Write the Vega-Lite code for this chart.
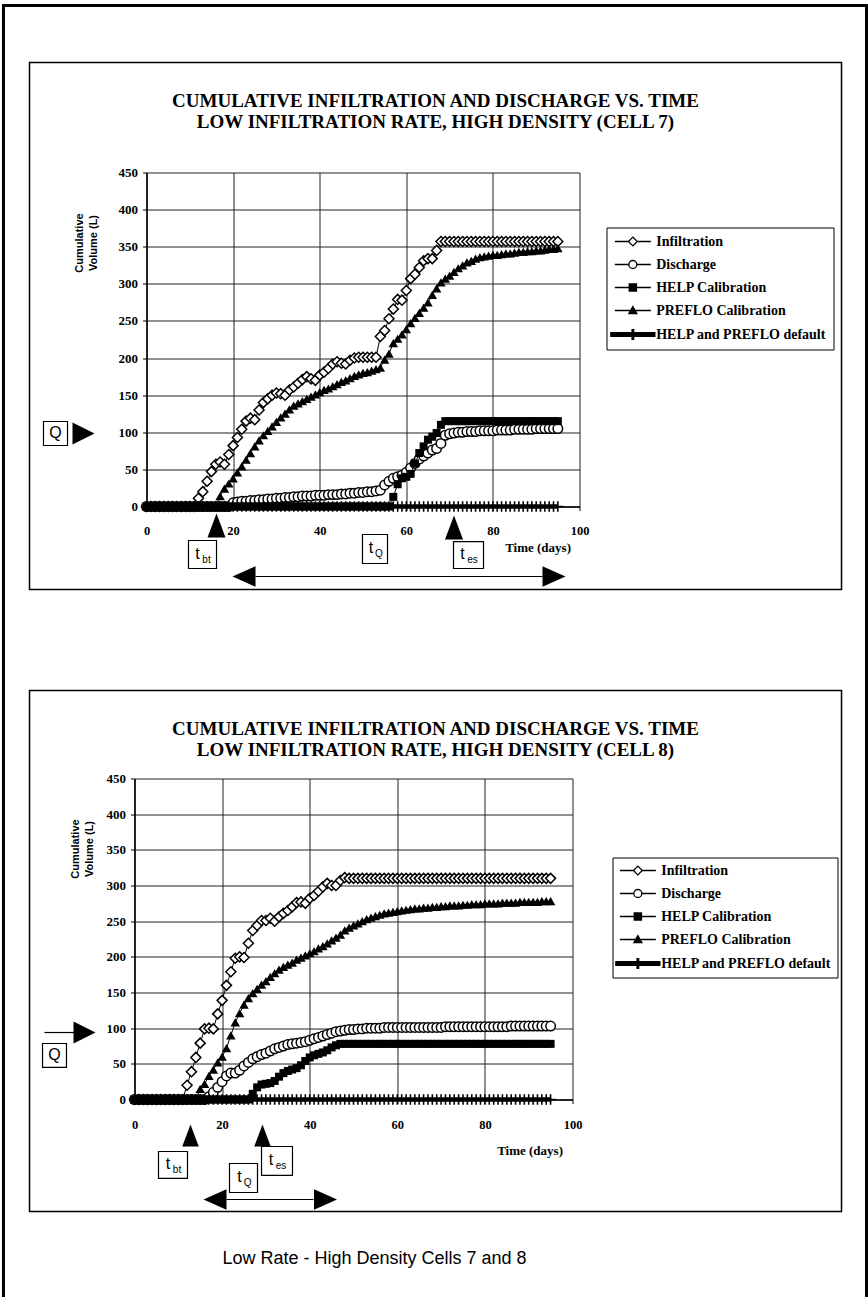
{
"$schema":"https://vega.github.io/schema/vega-lite/v6.json",
"padding":{"left":1.5,"top":3.5,"right":0,"bottom":0},
"background":"white",
"config":{"view":{"stroke":null},"font":"Liberation Serif"},
"datasets":{
"c7":[
{"t":0,"i":0,"c":0,"h":0,"p":0,"d":0},{"t":1,"i":0,"c":0,"h":0,"p":0,"d":0},{"t":2,"i":0,"c":0,"h":0,"p":0,"d":0},{"t":3,"i":0,"c":0,"h":0,"p":0,"d":0},{"t":4,"i":0,"c":0,"h":0,"p":0,"d":0},{"t":5,"i":0,"c":0,"h":0,"p":0,"d":0},{"t":6,"i":0,"c":0,"h":0,"p":0,"d":0},{"t":7,"i":0,"c":0,"h":0,"p":0,"d":0},{"t":8,"i":0,"c":0,"h":0,"p":0,"d":0},{"t":9,"i":0,"c":0,"h":0,"p":0,"d":0},{"t":10,"i":0,"c":0,"h":0,"p":0,"d":0},{"t":11,"i":0,"c":0,"h":0,"p":0,"d":0},
{"t":12,"i":11,"c":0,"h":0,"p":0,"d":0},{"t":13,"i":20,"c":0,"h":0,"p":0,"d":0},{"t":14,"i":34,"c":0,"h":0,"p":0,"d":0},{"t":15,"i":47,"c":0,"h":0,"p":0,"d":0},{"t":16,"i":57,"c":0,"h":0,"p":0,"d":0},{"t":17,"i":60,"c":0,"h":0,"p":14,"d":0},{"t":18,"i":57,"c":0,"h":0,"p":24,"d":0},{"t":19,"i":70,"c":0,"h":0,"p":31,"d":0},
{"t":20,"i":82,"c":5,"h":0,"p":38,"d":0},{"t":21,"i":93,"c":6,"h":0,"p":46,"d":0},{"t":22,"i":104,"c":7,"h":0,"p":54,"d":0},{"t":23,"i":115,"c":7,"h":0,"p":63,"d":0},{"t":24,"i":119,"c":8,"h":0,"p":72,"d":0},{"t":25,"i":117,"c":8,"h":0,"p":81,"d":0},{"t":26,"i":130,"c":9,"h":0,"p":89,"d":0},{"t":27,"i":140,"c":9,"h":0,"p":96,"d":0},{"t":28,"i":145,"c":10,"h":0,"p":102,"d":0},{"t":29,"i":150,"c":10,"h":0,"p":108,"d":0},
{"t":30,"i":153,"c":11,"h":0,"p":114,"d":0},{"t":31,"i":152,"c":11,"h":0,"p":120,"d":0},{"t":32,"i":150,"c":12,"h":0,"p":125,"d":0},{"t":33,"i":157,"c":12,"h":0,"p":131,"d":0},{"t":34,"i":161,"c":13,"h":0,"p":136,"d":0},{"t":35,"i":166,"c":13,"h":0,"p":139,"d":0},{"t":36,"i":171,"c":14,"h":0,"p":142,"d":0},{"t":37,"i":175,"c":14,"h":0,"p":145,"d":0},{"t":38,"i":172,"c":14,"h":0,"p":148,"d":0},{"t":39,"i":170,"c":15,"h":0,"p":151,"d":0},
{"t":40,"i":177,"c":15,"h":0,"p":154,"d":0},{"t":41,"i":181,"c":15,"h":0,"p":157,"d":0},{"t":42,"i":186,"c":16,"h":0,"p":159,"d":0},{"t":43,"i":192,"c":16,"h":0,"p":162,"d":0},{"t":44,"i":195,"c":16,"h":0,"p":165,"d":0},{"t":45,"i":193,"c":17,"h":0,"p":168,"d":0},{"t":46,"i":192,"c":17,"h":0,"p":170,"d":0},{"t":47,"i":197,"c":18,"h":0,"p":173,"d":0},{"t":48,"i":200,"c":18,"h":0,"p":176,"d":0},{"t":49,"i":201,"c":19,"h":0,"p":178,"d":0},
{"t":50,"i":201,"c":19,"h":0,"p":180,"d":0},{"t":51,"i":201,"c":20,"h":0,"p":181,"d":0},{"t":52,"i":201,"c":20,"h":0,"p":183,"d":0},{"t":53,"i":201,"c":21,"h":0,"p":185,"d":0},{"t":54,"i":229,"c":22,"h":0,"p":187,"d":0},{"t":55,"i":237,"c":29,"h":0,"p":198,"d":0},{"t":56,"i":253,"c":34,"h":0,"p":206,"d":0},{"t":57,"i":266,"c":38,"h":13,"p":220,"d":0},{"t":58,"i":279,"c":40,"h":30,"p":226,"d":0},{"t":59,"i":278,"c":42,"h":38,"p":232,"d":0},
{"t":60,"i":291,"c":46,"h":40,"p":239,"d":0},{"t":61,"i":307,"c":52,"h":44,"p":247,"d":0},{"t":62,"i":313,"c":58,"h":58,"p":254,"d":0},{"t":63,"i":322,"c":64,"h":72,"p":261,"d":0},{"t":64,"i":331,"c":68,"h":81,"p":268,"d":0},{"t":65,"i":334,"c":72,"h":90,"p":275,"d":0},{"t":66,"i":334,"c":76,"h":94,"p":285,"d":0},{"t":67,"i":345,"c":78,"h":99,"p":294,"d":0},{"t":68,"i":357,"c":85,"h":110,"p":302,"d":0},{"t":69,"i":357,"c":96,"h":115,"p":307,"d":0},
{"t":70,"i":357,"c":98,"h":115,"p":311,"d":0},{"t":71,"i":357,"c":99,"h":115,"p":316,"d":0},{"t":72,"i":357,"c":100,"h":115,"p":321,"d":0},{"t":73,"i":357,"c":100,"h":115,"p":325,"d":0},{"t":74,"i":357,"c":101,"h":115,"p":329,"d":0},{"t":75,"i":357,"c":101,"h":115,"p":331,"d":0},{"t":76,"i":357,"c":101,"h":115,"p":334,"d":0},{"t":77,"i":357,"c":102,"h":115,"p":336,"d":0},{"t":78,"i":357,"c":102,"h":115,"p":337,"d":0},{"t":79,"i":357,"c":102,"h":115,"p":338,"d":0},
{"t":80,"i":357,"c":102,"h":115,"p":339,"d":0},{"t":81,"i":357,"c":103,"h":115,"p":339,"d":0},{"t":82,"i":357,"c":103,"h":115,"p":340,"d":0},{"t":83,"i":357,"c":103,"h":115,"p":341,"d":0},{"t":84,"i":357,"c":103,"h":115,"p":341,"d":0},{"t":85,"i":357,"c":104,"h":115,"p":342,"d":0},{"t":86,"i":357,"c":104,"h":115,"p":343,"d":0},{"t":87,"i":357,"c":104,"h":115,"p":343,"d":0},{"t":88,"i":357,"c":104,"h":115,"p":344,"d":0},{"t":89,"i":357,"c":104,"h":115,"p":344,"d":0},
{"t":90,"i":357,"c":105,"h":115,"p":345,"d":0},{"t":91,"i":357,"c":105,"h":115,"p":345,"d":0},{"t":92,"i":357,"c":105,"h":115,"p":346,"d":0},{"t":93,"i":357,"c":105,"h":115,"p":347,"d":0},{"t":94,"i":357,"c":105,"h":115,"p":347,"d":0},{"t":95,"i":357,"c":105,"h":115,"p":348,"d":0}
],
"c8":[
{"t":0,"i":0,"c":0,"h":0,"p":0,"d":0},{"t":1,"i":0,"c":0,"h":0,"p":0,"d":0},{"t":2,"i":0,"c":0,"h":0,"p":0,"d":0},{"t":3,"i":0,"c":0,"h":0,"p":0,"d":0},{"t":4,"i":0,"c":0,"h":0,"p":0,"d":0},{"t":5,"i":0,"c":0,"h":0,"p":0,"d":0},{"t":6,"i":0,"c":0,"h":0,"p":0,"d":0},{"t":7,"i":0,"c":0,"h":0,"p":0,"d":0},{"t":8,"i":0,"c":0,"h":0,"p":0,"d":0},{"t":9,"i":0,"c":0,"h":0,"p":0,"d":0},{"t":10,"i":0,"c":0,"h":0,"p":0,"d":0},{"t":11,"i":0,"c":0,"h":0,"p":0,"d":0},
{"t":12,"i":20,"c":0,"h":0,"p":0,"d":0},{"t":13,"i":39,"c":0,"h":0,"p":0,"d":0},{"t":14,"i":59,"c":0,"h":0,"p":0,"d":0},{"t":15,"i":79,"c":0,"h":0,"p":15,"d":0},{"t":16,"i":99,"c":0,"h":0,"p":22,"d":0},{"t":17,"i":100,"c":4,"h":0,"p":33,"d":0},{"t":18,"i":99,"c":10,"h":0,"p":42,"d":0},{"t":19,"i":120,"c":17,"h":0,"p":52,"d":0},
{"t":20,"i":139,"c":25,"h":0,"p":60,"d":0},{"t":21,"i":160,"c":33,"h":0,"p":72,"d":0},{"t":22,"i":179,"c":37,"h":0,"p":90,"d":0},{"t":23,"i":198,"c":37,"h":0,"p":108,"d":0},{"t":24,"i":200,"c":41,"h":0,"p":121,"d":0},{"t":25,"i":199,"c":47,"h":0,"p":133,"d":0},{"t":26,"i":219,"c":52,"h":0,"p":142,"d":0},{"t":27,"i":237,"c":57,"h":8,"p":149,"d":0},{"t":28,"i":244,"c":60,"h":17,"p":155,"d":0},{"t":29,"i":251,"c":63,"h":21,"p":161,"d":0},
{"t":30,"i":251,"c":65,"h":22,"p":166,"d":0},{"t":31,"i":254,"c":68,"h":23,"p":172,"d":0},{"t":32,"i":250,"c":71,"h":26,"p":177,"d":0},{"t":33,"i":256,"c":73,"h":32,"p":182,"d":0},{"t":34,"i":261,"c":75,"h":37,"p":186,"d":0},{"t":35,"i":265,"c":77,"h":40,"p":189,"d":0},{"t":36,"i":270,"c":78,"h":42,"p":192,"d":0},{"t":37,"i":276,"c":79,"h":44,"p":196,"d":0},{"t":38,"i":277,"c":80,"h":48,"p":199,"d":0},{"t":39,"i":275,"c":81,"h":54,"p":202,"d":0},
{"t":40,"i":282,"c":83,"h":59,"p":205,"d":0},{"t":41,"i":286,"c":85,"h":62,"p":208,"d":0},{"t":42,"i":292,"c":87,"h":64,"p":212,"d":0},{"t":43,"i":298,"c":89,"h":66,"p":215,"d":0},{"t":44,"i":303,"c":91,"h":69,"p":219,"d":0},{"t":45,"i":300,"c":93,"h":73,"p":223,"d":0},{"t":46,"i":300,"c":95,"h":76,"p":227,"d":0},{"t":47,"i":307,"c":96,"h":78,"p":231,"d":0},{"t":48,"i":311,"c":97,"h":78,"p":237,"d":0},{"t":49,"i":310,"c":98,"h":78,"p":241,"d":0},
{"t":50,"i":310,"c":98,"h":78,"p":244,"d":0},{"t":51,"i":310,"c":99,"h":78,"p":247,"d":0},{"t":52,"i":310,"c":99,"h":78,"p":250,"d":0},{"t":53,"i":310,"c":100,"h":78,"p":253,"d":0},{"t":54,"i":310,"c":100,"h":78,"p":255,"d":0},{"t":55,"i":310,"c":100,"h":78,"p":257,"d":0},{"t":56,"i":310,"c":100,"h":78,"p":259,"d":0},{"t":57,"i":310,"c":101,"h":78,"p":261,"d":0},{"t":58,"i":310,"c":101,"h":78,"p":262,"d":0},{"t":59,"i":310,"c":101,"h":78,"p":263,"d":0},
{"t":60,"i":310,"c":101,"h":78,"p":264,"d":0},{"t":61,"i":310,"c":101,"h":78,"p":265,"d":0},{"t":62,"i":310,"c":101,"h":78,"p":266,"d":0},{"t":63,"i":310,"c":101,"h":78,"p":267,"d":0},{"t":64,"i":310,"c":101,"h":78,"p":268,"d":0},{"t":65,"i":310,"c":101,"h":78,"p":268,"d":0},{"t":66,"i":310,"c":101,"h":78,"p":269,"d":0},{"t":67,"i":310,"c":101,"h":78,"p":269,"d":0},{"t":68,"i":310,"c":101,"h":78,"p":270,"d":0},{"t":69,"i":310,"c":101,"h":78,"p":270,"d":0},
{"t":70,"i":310,"c":101,"h":78,"p":271,"d":0},{"t":71,"i":310,"c":102,"h":78,"p":271,"d":0},{"t":72,"i":310,"c":102,"h":78,"p":272,"d":0},{"t":73,"i":310,"c":102,"h":78,"p":272,"d":0},{"t":74,"i":310,"c":102,"h":78,"p":272,"d":0},{"t":75,"i":310,"c":102,"h":78,"p":273,"d":0},{"t":76,"i":310,"c":102,"h":78,"p":273,"d":0},{"t":77,"i":310,"c":102,"h":78,"p":274,"d":0},{"t":78,"i":310,"c":102,"h":78,"p":274,"d":0},{"t":79,"i":310,"c":102,"h":78,"p":274,"d":0},
{"t":80,"i":310,"c":102,"h":78,"p":275,"d":0},{"t":81,"i":310,"c":102,"h":78,"p":275,"d":0},{"t":82,"i":310,"c":102,"h":78,"p":275,"d":0},{"t":83,"i":310,"c":102,"h":78,"p":275,"d":0},{"t":84,"i":310,"c":102,"h":78,"p":276,"d":0},{"t":85,"i":310,"c":102,"h":78,"p":276,"d":0},{"t":86,"i":310,"c":103,"h":78,"p":276,"d":0},{"t":87,"i":310,"c":103,"h":78,"p":276,"d":0},{"t":88,"i":310,"c":103,"h":78,"p":277,"d":0},{"t":89,"i":310,"c":103,"h":78,"p":277,"d":0},
{"t":90,"i":310,"c":103,"h":78,"p":277,"d":0},{"t":91,"i":310,"c":103,"h":78,"p":277,"d":0},{"t":92,"i":310,"c":103,"h":78,"p":277,"d":0},{"t":93,"i":310,"c":103,"h":78,"p":278,"d":0},{"t":94,"i":310,"c":103,"h":78,"p":278,"d":0},{"t":95,"i":310,"c":103,"h":78,"p":278,"d":0}
],
"names":[{"s":"Infiltration"},{"s":"Discharge"},{"s":"HELP Calibration"},{"s":"PREFLO Calibration"},{"s":"HELP and PREFLO default"}]
},
"spacing":272,
"bounds":"flush",
"resolve":{"scale":{"x":"independent","y":"independent","shape":"independent","fill":"independent","stroke":"independent"},"legend":{"shape":"independent","fill":"independent","stroke":"independent"}},
"vconcat":[
{
"width":445,"height":334,
"layer":[
{"data":{"values":[{}]},"mark":{"type":"rect","fill":"white","fillOpacity":0,"stroke":"black","strokeWidth":3},
 "encoding":{"x":{"datum":-33.03},"x2":{"datum":166.28},"y":{"datum":675},"y2":{"datum":-1069.8}}},
{"data":{"values":[{}]},"mark":{"type":"rect","fill":"white","fillOpacity":0,"stroke":"black","strokeWidth":1.5},
 "encoding":{"x":{"datum":-27.02},"x2":{"datum":160.51},"y":{"datum":598.2},"y2":{"datum":-111.8}}},
{"data":{"name":"c7"},"mark":{"type":"line","color":"black","strokeWidth":1,"point":{"shape":"diamond","filled":true,"fill":"white","stroke":"black","strokeWidth":1.5,"size":100}},
 "encoding":{
  "x":{"field":"t","type":"quantitative","scale":{"domain":[0,100],"range":[12,445],"nice":false,"zero":false},
   "axis":{"values":[0,20,40,60,80,100],"tickCount":20,"grid":true,"gridColor":"#222","gridWidth":1,"domainColor":"black","domainWidth":1.5,"tickColor":"black","tickSize":4,"labelFont":"Liberation Serif","labelFontWeight":"bold","labelFontSize":12.5,"labelColor":"black","labelPadding":14,"labelFlush":false,"labelOverlap":false,"title":"Time (days)","titleFont":"Liberation Serif","titleFontWeight":"bold","titleFontSize":13,"titleColor":"black","titleAlign":"right","titleBaseline":"middle","titleX":436,"titleY":41}},
  "y":{"field":"i","type":"quantitative","scale":{"domain":[0,450],"nice":false,"zero":false},
   "axis":{"values":[0,50,100,150,200,250,300,350,400,450],"tickCount":20,"offset":-12,"grid":true,"gridColor":"#222","gridWidth":1,"domainColor":"black","domainWidth":1.5,"tickColor":"black","tickSize":4,"labelFont":"Liberation Serif","labelFontWeight":"bold","labelFontSize":13,"labelColor":"black","labelPadding":5,"labelOverlap":false,"labelFlush":false,"title":["Cumulative","Volume (L)"],"titleFont":"Liberation Sans","titleFontWeight":"bold","titleFontSize":11,"titleColor":"black","titleAngle":-90,"titleAlign":"center","titleBaseline":"middle","titleLineHeight":14,"titleX":-67,"titleY":70}}}},
{"data":{"name":"c7"},"mark":{"type":"line","color":"black","strokeWidth":1,"point":{"shape":"circle","filled":true,"fill":"white","stroke":"black","strokeWidth":1.5,"size":90}},
 "encoding":{"x":{"field":"t","type":"quantitative"},"y":{"field":"c","type":"quantitative"}}},
{"data":{"name":"c7"},"mark":{"type":"line","color":"black","strokeWidth":1,"point":{"shape":"square","filled":true,"fill":"black","size":64}},
 "encoding":{"x":{"field":"t","type":"quantitative"},"y":{"field":"h","type":"quantitative"}}},
{"data":{"name":"c7"},"mark":{"type":"line","color":"black","strokeWidth":1,"point":{"shape":"triangle-up","filled":true,"fill":"black","size":90}},
 "encoding":{"x":{"field":"t","type":"quantitative"},"y":{"field":"p","type":"quantitative"}}},
{"data":{"name":"c7"},"mark":{"type":"line","color":"black","strokeWidth":4.5,"point":{"shape":"M-1,-0.15H1V0.15H-1ZM-0.15,-1H0.15V1H-0.15Z","filled":true,"fill":"black","size":110}},
 "encoding":{"x":{"field":"t","type":"quantitative"},"y":{"field":"d","type":"quantitative"}}},
{"data":{"values":[{}]},"mark":{"type":"rect","fill":"white","stroke":"black","strokeWidth":1.2},
 "encoding":{"x":{"datum":-23.79},"x2":{"datum":-18.24},"y":{"datum":114.5},"y2":{"datum":82.2}}},
{"data":{"values":[{}]},"mark":{"type":"text","font":"Liberation Sans","fontSize":16,"color":"black","baseline":"middle"},
 "encoding":{"x":{"datum":-21.02},"y":{"datum":98.4},"text":{"value":"Q"}}},
{"data":{"values":[{}]},"mark":{"type":"point","shape":"M1,0L-1,-1L-1,1Z","filled":true,"color":"black","opacity":1,"size":484},
 "encoding":{"x":{"datum":-14.55},"y":{"datum":98.4}}},
{"data":{"values":[{}]},"mark":{"type":"point","shape":"M0,-1L0.75,1L-0.75,1Z","filled":true,"color":"black","opacity":1,"size":576},
 "encoding":{"x":{"datum":16.17},"y":{"datum":-25.6}}},
{"data":{"values":[{}]},"mark":{"type":"point","shape":"M0,-1L0.75,1L-0.75,1Z","filled":true,"color":"black","opacity":1,"size":576},
 "encoding":{"x":{"datum":71.02},"y":{"datum":-28.3}}},
{"data":{"values":[{}]},"mark":{"type":"rect","fill":"white","stroke":"black","strokeWidth":1.2},
 "encoding":{"x":{"datum":9.70},"x2":{"datum":16.17},"y":{"datum":-45.8},"y2":{"datum":-83.5}}},
{"data":{"values":[{}]},"mark":{"type":"rect","fill":"white","stroke":"black","strokeWidth":1.2},
 "encoding":{"x":{"datum":49.88},"x2":{"datum":55.66},"y":{"datum":-37.7},"y2":{"datum":-76.8}}},
{"data":{"values":[{}]},"mark":{"type":"rect","fill":"white","stroke":"black","strokeWidth":1.2},
 "encoding":{"x":{"datum":70.90},"x2":{"datum":77.83},"y":{"datum":-47.2},"y2":{"datum":-83.5}}},
{"data":{"values":[{}]},"mark":{"type":"text","font":"Liberation Sans","fontSize":16,"color":"black","baseline":"middle","dx":-5,"dy":-1},
 "encoding":{"x":{"datum":12.93},"y":{"datum":-64.7},"text":{"value":"t"}}},
{"data":{"values":[{}]},"mark":{"type":"text","font":"Liberation Sans","fontSize":10,"color":"black","baseline":"middle","dx":4,"dy":5},
 "encoding":{"x":{"datum":12.93},"y":{"datum":-64.7},"text":{"value":"bt"}}},
{"data":{"values":[{}]},"mark":{"type":"text","font":"Liberation Sans","fontSize":16,"color":"black","baseline":"middle","dx":-4,"dy":-1},
 "encoding":{"x":{"datum":52.77},"y":{"datum":-57.2},"text":{"value":"t"}}},
{"data":{"values":[{}]},"mark":{"type":"text","font":"Liberation Sans","fontSize":10,"color":"black","baseline":"middle","dx":4,"dy":5},
 "encoding":{"x":{"datum":52.77},"y":{"datum":-57.2},"text":{"value":"Q"}}},
{"data":{"values":[{}]},"mark":{"type":"text","font":"Liberation Sans","fontSize":16,"color":"black","baseline":"middle","dx":-6,"dy":-1},
 "encoding":{"x":{"datum":74.36},"y":{"datum":-65.3},"text":{"value":"t"}}},
{"data":{"values":[{}]},"mark":{"type":"text","font":"Liberation Sans","fontSize":10,"color":"black","baseline":"middle","dx":4,"dy":5},
 "encoding":{"x":{"datum":74.36},"y":{"datum":-65.3},"text":{"value":"es"}}},
{"data":{"values":[{}]},"mark":{"type":"rule","color":"black","strokeWidth":1.2},
 "encoding":{"x":{"datum":25.17},"x2":{"datum":91.45},"y":{"datum":-94.3}}},
{"data":{"values":[{}]},"mark":{"type":"point","shape":"M-1,0L1,-0.9L1,0.9Z","filled":true,"color":"black","opacity":1,"size":529},
 "encoding":{"x":{"datum":22.52},"y":{"datum":-94.3}}},
{"data":{"values":[{}]},"mark":{"type":"point","shape":"M1,0L-1,-0.9L-1,0.9Z","filled":true,"color":"black","opacity":1,"size":529},
 "encoding":{"x":{"datum":94.11},"y":{"datum":-94.3}}},
{"data":{"values":[{}]},"mark":{"type":"text","font":"Liberation Serif","fontSize":19,"fontWeight":"bold","color":"black","baseline":"middle"},
 "encoding":{"x":{"datum":66.74},"y":{"datum":547.0},"text":{"value":"CUMULATIVE INFILTRATION AND DISCHARGE VS. TIME"}}},
{"data":{"values":[{}]},"mark":{"type":"text","font":"Liberation Serif","fontSize":19,"fontWeight":"bold","color":"black","baseline":"middle"},
 "encoding":{"x":{"datum":66.74},"y":{"datum":518.7},"text":{"value":"LOW INFILTRATION RATE, HIGH DENSITY (CELL 7)"}}},
{"data":{"name":"names"},"mark":{"type":"point","filled":true,"opacity":0,"strokeWidth":1.3},
 "encoding":{
  "shape":{"field":"s","type":"nominal","scale":{"domain":["Infiltration","Discharge","HELP Calibration","PREFLO Calibration","HELP and PREFLO default"],"range":["M-4.5,0H-1.1M1.1,0H4.5M-1.1,0L0,-1.1L1.1,0L0,1.1Z","M-4.5,0H-1M1,0H4.5M-1,0A1,1,0,1,0,1,0A1,1,0,1,0,-1,0Z","M-4.5,0H4.5M-0.9,-0.9H0.9V0.9H-0.9Z","M-4.5,0H4.5M0,-1L1,0.8L-1,0.8Z","M-5.5,-0.45H5.5V0.45H-5.5ZM-0.2,-1.2H0.2V1.2H-0.2Z"]},
   "legend":{"orient":"none","legendX":472,"legendY":55,"title":null,"labelFont":"Liberation Serif","labelFontSize":14,"labelFontWeight":"bold","labelColor":"black","labelLimit":400,"symbolSize":64,"symbolStrokeColor":"black","symbolStrokeWidth":1.3,"symbolOpacity":1,"symbolOffset":12.35,"labelOffset":16.35,"rowPadding":9,"padding":7,"strokeColor":"black","fillColor":"white"}},
  "fill":{"field":"s","type":"nominal","scale":{"domain":["Infiltration","Discharge","HELP Calibration","PREFLO Calibration","HELP and PREFLO default"],"range":["white","white","black","black","black"]},
   "legend":{"orient":"none","legendX":472,"legendY":55,"title":null,"labelFont":"Liberation Serif","labelFontSize":14,"labelFontWeight":"bold","labelColor":"black","labelLimit":400,"symbolSize":64,"symbolStrokeWidth":1.3,"symbolOpacity":1,"symbolOffset":12.35,"labelOffset":16.35,"rowPadding":9,"padding":7,"strokeColor":"black","fillColor":"white"}},
  "stroke":{"field":"s","type":"nominal","scale":{"domain":["Infiltration","Discharge","HELP Calibration","PREFLO Calibration","HELP and PREFLO default"],"range":["black","black","black","black","black"]},
   "legend":{"orient":"none","legendX":472,"legendY":55,"title":null,"labelFont":"Liberation Serif","labelFontSize":14,"labelFontWeight":"bold","labelColor":"black","labelLimit":400,"symbolSize":64,"symbolStrokeWidth":1.3,"symbolOpacity":1,"symbolOffset":12.35,"labelOffset":16.35,"rowPadding":9,"padding":7,"strokeColor":"black","fillColor":"white"}}}}
]
},
{
"width":438,"height":321,
"layer":[
{"data":{"values":[{}]},"mark":{"type":"rect","fill":"white","fillOpacity":0,"stroke":"black","strokeWidth":1.5},
 "encoding":{"x":{"datum":-23.97},"x2":{"datum":161.42},"y":{"datum":573.4},"y2":{"datum":-157.0}}},
{"data":{"name":"c8"},"mark":{"type":"line","color":"black","strokeWidth":1,"point":{"shape":"diamond","filled":true,"fill":"white","stroke":"black","strokeWidth":1.5,"size":100}},
 "encoding":{
  "x":{"field":"t","type":"quantitative","scale":{"domain":[0,100],"nice":false,"zero":false},
   "axis":{"values":[0,20,40,60,80,100],"tickCount":20,"grid":true,"gridColor":"#222","gridWidth":1,"domainColor":"black","domainWidth":1.5,"tickColor":"black","tickSize":4,"labelFont":"Liberation Serif","labelFontWeight":"bold","labelFontSize":12.5,"labelColor":"black","labelPadding":15,"labelFlush":false,"labelOverlap":false,"title":"Time (days)","titleFont":"Liberation Serif","titleFontWeight":"bold","titleFontSize":13,"titleColor":"black","titleAlign":"right","titleBaseline":"middle","titleX":428,"titleY":51}},
  "y":{"field":"i","type":"quantitative","scale":{"domain":[0,450],"nice":false,"zero":false},
   "axis":{"values":[0,50,100,150,200,250,300,350,400,450],"tickCount":20,"grid":true,"gridColor":"#222","gridWidth":1,"domainColor":"black","domainWidth":1.5,"tickColor":"black","tickSize":4,"labelFont":"Liberation Serif","labelFontWeight":"bold","labelFontSize":13,"labelColor":"black","labelPadding":5,"labelOverlap":false,"labelFlush":false,"title":["Cumulative","Volume (L)"],"titleFont":"Liberation Sans","titleFontWeight":"bold","titleFontSize":11,"titleColor":"black","titleAngle":-90,"titleAlign":"center","titleBaseline":"middle","titleLineHeight":14,"titleX":-59,"titleY":70}}}},
{"data":{"name":"c8"},"mark":{"type":"line","color":"black","strokeWidth":1,"point":{"shape":"circle","filled":true,"fill":"white","stroke":"black","strokeWidth":1.5,"size":90}},
 "encoding":{"x":{"field":"t","type":"quantitative"},"y":{"field":"c","type":"quantitative"}}},
{"data":{"name":"c8"},"mark":{"type":"line","color":"black","strokeWidth":1,"point":{"shape":"square","filled":true,"fill":"black","size":64}},
 "encoding":{"x":{"field":"t","type":"quantitative"},"y":{"field":"h","type":"quantitative"}}},
{"data":{"name":"c8"},"mark":{"type":"line","color":"black","strokeWidth":1,"point":{"shape":"triangle-up","filled":true,"fill":"black","size":90}},
 "encoding":{"x":{"field":"t","type":"quantitative"},"y":{"field":"p","type":"quantitative"}}},
{"data":{"name":"c8"},"mark":{"type":"line","color":"black","strokeWidth":4.5,"point":{"shape":"M-1,-0.15H1V0.15H-1ZM-0.15,-1H0.15V1H-0.15Z","filled":true,"fill":"black","size":110}},
 "encoding":{"x":{"field":"t","type":"quantitative"},"y":{"field":"d","type":"quantitative"}}},
{"data":{"values":[{}]},"mark":{"type":"rule","color":"black","strokeWidth":1.2},
 "encoding":{"x":{"datum":-20.55},"x2":{"datum":-13.70},"y":{"datum":93.9}}},
{"data":{"values":[{}]},"mark":{"type":"rect","fill":"white","stroke":"black","strokeWidth":1.2},
 "encoding":{"x":{"datum":-21.0},"x2":{"datum":-15.53},"y":{"datum":78.5},"y2":{"datum":44.9}}},
{"data":{"values":[{}]},"mark":{"type":"text","font":"Liberation Sans","fontSize":16,"color":"black","baseline":"middle"},
 "encoding":{"x":{"datum":-18.26},"y":{"datum":61.7},"text":{"value":"Q"}}},
{"data":{"values":[{}]},"mark":{"type":"point","shape":"M1,0L-1,-1L-1,1Z","filled":true,"color":"black","opacity":1,"size":484},
 "encoding":{"x":{"datum":-11.42},"y":{"datum":93.9}}},
{"data":{"values":[{}]},"mark":{"type":"point","shape":"M0,-1L0.75,1L-0.75,1Z","filled":true,"color":"black","opacity":1,"size":484},
 "encoding":{"x":{"datum":12.79},"y":{"datum":-50.5}}},
{"data":{"values":[{}]},"mark":{"type":"point","shape":"M0,-1L0.75,1L-0.75,1Z","filled":true,"color":"black","opacity":1,"size":484},
 "encoding":{"x":{"datum":29.22},"y":{"datum":-50.5}}},
{"data":{"values":[{}]},"mark":{"type":"rect","fill":"white","stroke":"black","strokeWidth":1.2},
 "encoding":{"x":{"datum":5.48},"x2":{"datum":12.10},"y":{"datum":-72.9},"y2":{"datum":-110.7}}},
{"data":{"values":[{}]},"mark":{"type":"rect","fill":"white","stroke":"black","strokeWidth":1.2},
 "encoding":{"x":{"datum":29.0},"x2":{"datum":36.07},"y":{"datum":-65.9},"y2":{"datum":-106.5}}},
{"data":{"values":[{}]},"mark":{"type":"rect","fill":"white","stroke":"black","strokeWidth":1.2},
 "encoding":{"x":{"datum":21.69},"x2":{"datum":28.08},"y":{"datum":-89.7},"y2":{"datum":-130.4}}},
{"data":{"values":[{}]},"mark":{"type":"text","font":"Liberation Sans","fontSize":16,"color":"black","baseline":"middle","dx":-5,"dy":-1},
 "encoding":{"x":{"datum":8.79},"y":{"datum":-91.8},"text":{"value":"t"}}},
{"data":{"values":[{}]},"mark":{"type":"text","font":"Liberation Sans","fontSize":10,"color":"black","baseline":"middle","dx":4,"dy":5},
 "encoding":{"x":{"datum":8.79},"y":{"datum":-91.8},"text":{"value":"bt"}}},
{"data":{"values":[{}]},"mark":{"type":"text","font":"Liberation Sans","fontSize":16,"color":"black","baseline":"middle","dx":-6,"dy":-1},
 "encoding":{"x":{"datum":32.53},"y":{"datum":-86.2},"text":{"value":"t"}}},
{"data":{"values":[{}]},"mark":{"type":"text","font":"Liberation Sans","fontSize":10,"color":"black","baseline":"middle","dx":4,"dy":5},
 "encoding":{"x":{"datum":32.53},"y":{"datum":-86.2},"text":{"value":"es"}}},
{"data":{"values":[{}]},"mark":{"type":"text","font":"Liberation Sans","fontSize":16,"color":"black","baseline":"middle","dx":-4,"dy":-1},
 "encoding":{"x":{"datum":24.89},"y":{"datum":-110.0},"text":{"value":"t"}}},
{"data":{"values":[{}]},"mark":{"type":"text","font":"Liberation Sans","fontSize":10,"color":"black","baseline":"middle","dx":4,"dy":5},
 "encoding":{"x":{"datum":24.89},"y":{"datum":-110.0},"text":{"value":"Q"}}},
{"data":{"values":[{}]},"mark":{"type":"rule","color":"black","strokeWidth":1.2},
 "encoding":{"x":{"datum":21.0},"x2":{"datum":40.87},"y":{"datum":-140.2}}},
{"data":{"values":[{}]},"mark":{"type":"point","shape":"M-1,0L1,-0.9L1,0.9Z","filled":true,"color":"black","opacity":1,"size":529},
 "encoding":{"x":{"datum":18.38},"y":{"datum":-140.2}}},
{"data":{"values":[{}]},"mark":{"type":"point","shape":"M1,0L-1,-0.9L-1,0.9Z","filled":true,"color":"black","opacity":1,"size":529},
 "encoding":{"x":{"datum":43.61},"y":{"datum":-140.2}}},
{"data":{"values":[{}]},"mark":{"type":"text","font":"Liberation Serif","fontSize":19,"fontWeight":"bold","color":"black","baseline":"middle"},
 "encoding":{"x":{"datum":68.72},"y":{"datum":518.7},"text":{"value":"CUMULATIVE INFILTRATION AND DISCHARGE VS. TIME"}}},
{"data":{"values":[{}]},"mark":{"type":"text","font":"Liberation Serif","fontSize":19,"fontWeight":"bold","color":"black","baseline":"middle"},
 "encoding":{"x":{"datum":68.72},"y":{"datum":489.3},"text":{"value":"LOW INFILTRATION RATE, HIGH DENSITY (CELL 8)"}}},
{"data":{"values":[{}]},"mark":{"type":"text","font":"Liberation Sans","fontSize":18,"color":"black","baseline":"middle"},
 "encoding":{"x":{"datum":54.8},"y":{"datum":-222.9},"text":{"value":"Low Rate - High Density Cells 7 and 8"}}},
{"data":{"name":"names"},"mark":{"type":"point","filled":true,"opacity":0,"strokeWidth":1.3},
 "encoding":{
  "shape":{"field":"s","type":"nominal","scale":{"domain":["Infiltration","Discharge","HELP Calibration","PREFLO Calibration","HELP and PREFLO default"],"range":["M-4.5,0H-1.1M1.1,0H4.5M-1.1,0L0,-1.1L1.1,0L0,1.1Z","M-4.5,0H-1M1,0H4.5M-1,0A1,1,0,1,0,1,0A1,1,0,1,0,-1,0Z","M-4.5,0H4.5M-0.9,-0.9H0.9V0.9H-0.9Z","M-4.5,0H4.5M0,-1L1,0.8L-1,0.8Z","M-5.5,-0.45H5.5V0.45H-5.5ZM-0.2,-1.2H0.2V1.2H-0.2Z"]},
   "legend":{"orient":"none","legendX":478,"legendY":79,"title":null,"labelFont":"Liberation Serif","labelFontSize":14,"labelFontWeight":"bold","labelColor":"black","labelLimit":400,"symbolSize":64,"symbolStrokeColor":"black","symbolStrokeWidth":1.3,"symbolOpacity":1,"symbolOffset":12.35,"labelOffset":16.35,"rowPadding":9,"padding":6,"strokeColor":"black","fillColor":"white"}},
  "fill":{"field":"s","type":"nominal","scale":{"domain":["Infiltration","Discharge","HELP Calibration","PREFLO Calibration","HELP and PREFLO default"],"range":["white","white","black","black","black"]},
   "legend":{"orient":"none","legendX":478,"legendY":79,"title":null,"labelFont":"Liberation Serif","labelFontSize":14,"labelFontWeight":"bold","labelColor":"black","labelLimit":400,"symbolSize":64,"symbolStrokeWidth":1.3,"symbolOpacity":1,"symbolOffset":12.35,"labelOffset":16.35,"rowPadding":9,"padding":6,"strokeColor":"black","fillColor":"white"}},
  "stroke":{"field":"s","type":"nominal","scale":{"domain":["Infiltration","Discharge","HELP Calibration","PREFLO Calibration","HELP and PREFLO default"],"range":["black","black","black","black","black"]},
   "legend":{"orient":"none","legendX":478,"legendY":79,"title":null,"labelFont":"Liberation Serif","labelFontSize":14,"labelFontWeight":"bold","labelColor":"black","labelLimit":400,"symbolSize":64,"symbolStrokeWidth":1.3,"symbolOpacity":1,"symbolOffset":12.35,"labelOffset":16.35,"rowPadding":9,"padding":6,"strokeColor":"black","fillColor":"white"}}}}
]
}
]
}
